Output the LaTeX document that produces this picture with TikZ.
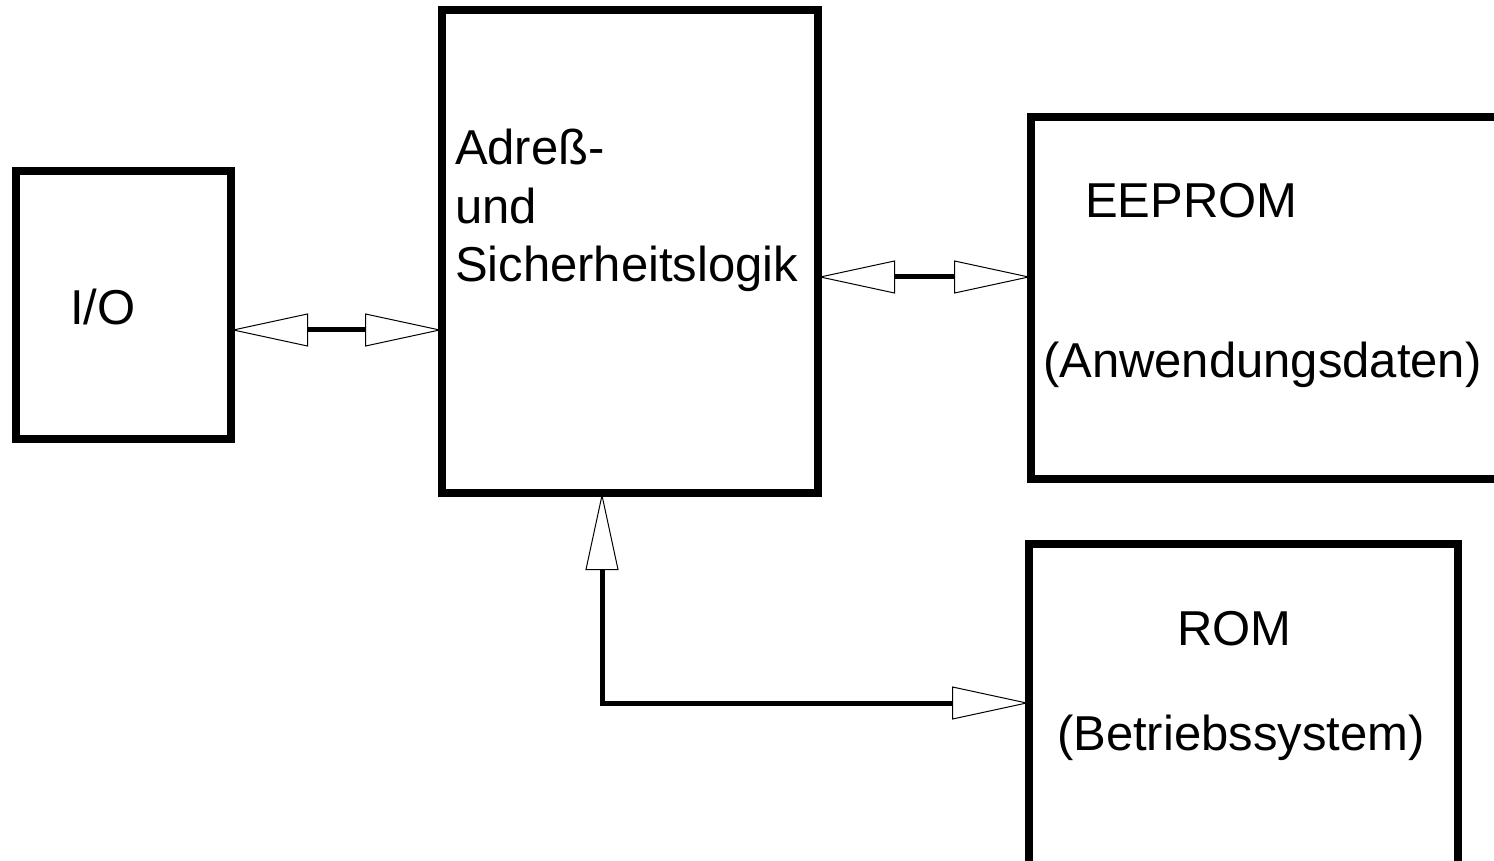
\documentclass[tikz,border=0pt]{standalone}
\usepackage{fontspec}
\setmainfont{Liberation Sans}
\usetikzlibrary{arrows.meta}
\tikzset{
  blockbox/.style={draw=black, line width=4pt, rectangle, inner sep=0pt, outer sep=0pt, fill=none},
  lbl/.style={anchor=base west, inner sep=0pt, outer sep=0pt, font=\fontsize{24.5}{29.25}\selectfont},
  opentip/.tip={Triangle[open, length=38.5pt, width=16.5pt, line width=0.5pt]},
  biarrow/.style={line width=2.5pt, {opentip}-{opentip}}
}
\begin{document}
\begin{tikzpicture}[x=0.5pt, y=-0.5pt]
\useasboundingbox (0,0) rectangle (1494,861);
\clip (0,0) rectangle (1494,861);
% boxes
\node[blockbox, minimum width=107.5pt, minimum height=134pt] (io) at (123.5,305) {};
\node[blockbox, minimum width=188pt, minimum height=241.25pt] (adr) at (630,251.75) {};
\node[blockbox, minimum width=234.5pt, minimum height=181pt] (eep) at (1265.5,298) {};
\node[blockbox, minimum width=214.5pt, minimum height=168pt] (rom) at (1243.5,712) {};
% texts
\node[lbl] (ioT) at (70,325) {I/O};
\node[lbl] (adrT1) at (455,165) {Adreß-};
\node[lbl] (adrT2) at (455,223.5) {und};
\node[lbl] (adrT3) at (455,282) {Sicherheitslogik};
\node[lbl] (eepT1) at (1085,218) {EEPROM};
\node[lbl] (eepT2) at (1043,378) {(Anwendungsdaten)};
\node[lbl] (romT1) at (1177,645) {ROM};
\node[lbl] (romT2) at (1057,750) {(Betriebssystem)};
% connectors
\coordinate (y1) at (0,330);
\coordinate (y2) at (0,277);
\coordinate (bend) at (602,703);
\draw[biarrow] (io.east |- y1) -- (adr.west |- y1);
\draw[biarrow] (adr.east |- y2) -- (eep.west |- y2);
\draw[biarrow] (adr.south -| bend) -- (bend) -- (rom.west |- bend);
\end{tikzpicture}
\end{document}
